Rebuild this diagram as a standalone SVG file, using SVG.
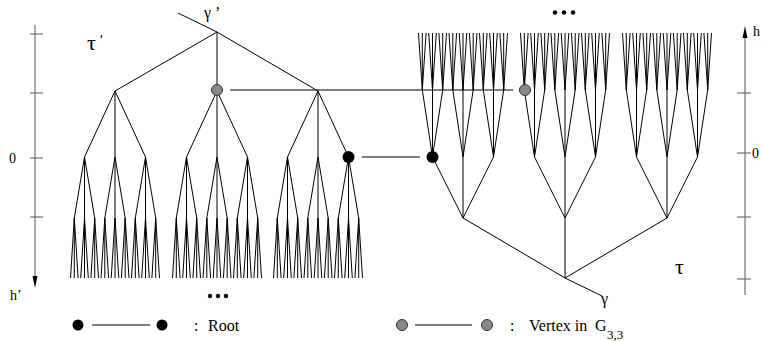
<svg xmlns="http://www.w3.org/2000/svg" xmlns:xlink="http://www.w3.org/1999/xlink" width="762" height="341" viewBox="0 0 762 341">
<style>
.e{stroke:#000;stroke-width:1;fill:none}
.ax{stroke:#555;stroke-width:1;fill:none}
.t{font-family:"Liberation Serif","Times New Roman",serif;fill:#000}
.gray{fill:#888;stroke:#333;stroke-width:1}
.blk{fill:#000}
</style>
<defs>
<g id="lf4"><path class="e" d="M0,0L-3.8,60M0,0L0,60M0,0L3.8,60"/></g>
<g id="lf3"><path class="e" d="M0,0L-10.2,61M0,0L0,61M0,0L10.2,61"/><use href="#lf4" x="-10.2" y="61"/><use href="#lf4" x="0" y="61"/><use href="#lf4" x="10.2" y="61"/></g>
<g id="lf2"><path class="e" d="M0,0L-30.5,66M0,0L0,66M0,0L30.5,66"/><use href="#lf3" x="-30.5" y="66"/><use href="#lf3" x="0" y="66"/><use href="#lf3" x="30.5" y="66"/></g>
<g id="rf4"><path class="e" d="M0,0L-3.8,-57M0,0L0,-57M0,0L3.8,-57"/></g>
<g id="rf3"><path class="e" d="M0,0L-10.2,-67M0,0L0,-67M0,0L10.2,-67"/><use href="#rf4" x="-10.2" y="-67"/><use href="#rf4" x="0" y="-67"/><use href="#rf4" x="10.2" y="-67"/></g>
<g id="rf2"><path class="e" d="M0,0L-30.5,-61M0,0L0,-61M0,0L30.5,-61"/><use href="#rf3" x="-30.5" y="-61"/><use href="#rf3" x="0" y="-61"/><use href="#rf3" x="30.5" y="-61"/></g>
</defs>
<rect width="762" height="341" fill="#fff"/>

<g id="axis-left">
<path class="ax" d="M35,25V278M30,34H43M30,93H43M30,158H43M30,217H43"/>
<polygon points="32.5,276 37.5,276 35,288" fill="#000"/>
<text class="t" x="9" y="163" font-size="14">0</text>
<text class="t" x="10" y="300" font-size="14">h’</text>
</g>

<g id="axis-right">
<path class="ax" d="M745,36V295M737,93H751M737,153H751M737,217H751M737,279H751"/>
<polygon points="742.5,38 747.5,38 745,26" fill="#000"/>
<text class="t" x="753" y="36" font-size="14">h</text>
<text class="t" x="752" y="158" font-size="14">0</text>
</g>

<g id="tree-left">
<path class="e" d="M178,13L217,32M217,32L115,91M217,32L217,91M217,32L318,91"/>
<use href="#lf2" x="115" y="91"/>
<use href="#lf2" x="217" y="91"/>
<use href="#lf2" x="318" y="91"/>
<text class="t" x="204" y="18" font-size="16">γ ’</text>
<text class="t" x="87" y="50" font-size="22">τ</text>
<text x="100" y="45" font-size="14" font-family="Liberation Sans, Arial, sans-serif">'</text>
</g>

<g id="tree-right">
<path class="e" d="M602,296L565,278M565,278L463,218M565,278L565,218M565,278L667,218"/>
<use href="#rf2" x="463" y="218"/>
<use href="#rf2" x="565" y="218"/>
<use href="#rf2" x="667" y="218"/>
<text class="t" x="601" y="304" font-size="16">γ</text>
<text class="t" x="675" y="274" font-size="22">τ</text>
</g>

<g id="dots">
<circle cx="555" cy="12.5" r="2.2"/><circle cx="564" cy="12.5" r="2.2"/><circle cx="573" cy="12.5" r="2.2"/>
<circle cx="210" cy="296" r="2.2"/><circle cx="218" cy="296" r="2.2"/><circle cx="226" cy="296" r="2.2"/>
</g>

<g id="connectors">
<line class="e" x1="230" y1="90" x2="513" y2="90"/>
<line class="e" x1="362" y1="157" x2="420" y2="157"/>
</g>

<g id="vertex-left"><circle class="gray" cx="217" cy="90" r="5.5"/></g>
<g id="vertex-right"><circle class="gray" cx="525" cy="90" r="5.5"/></g>
<g id="root-left"><circle class="blk" cx="348.5" cy="157" r="6"/></g>
<g id="root-right"><circle class="blk" cx="432.5" cy="157" r="6"/></g>

<g id="legend">
<circle class="blk" cx="78" cy="325" r="5.5"/>
<line class="e" x1="92" y1="325" x2="150" y2="325"/>
<circle class="blk" cx="162" cy="325" r="5.5"/>
<text class="t" x="194" y="331" font-size="16">:</text>
<text class="t" x="208" y="331" font-size="16">Root</text>
<circle class="gray" cx="402" cy="325" r="5.5"/>
<line class="e" x1="415" y1="325" x2="472" y2="325"/>
<circle class="gray" cx="487" cy="325" r="5.5"/>
<text class="t" x="510" y="331" font-size="16">:</text>
<text class="t" x="529" y="331" font-size="16">Vertex in</text>
<text class="t" x="595" y="331" font-size="16">G</text>
<text class="t" x="607" y="339" font-size="13">3,3</text>
</g>
</svg>
